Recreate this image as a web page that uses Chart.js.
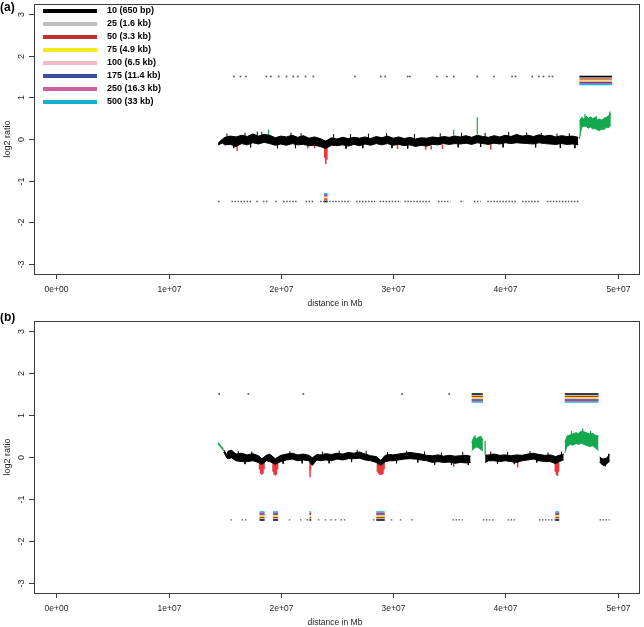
<!DOCTYPE html>
<html lang="en">
<head>
  <meta charset="UTF-8">
  <title>log2 ratio along the chromosome</title>
  <script src="https://cdn.jsdelivr.net/npm/chart.js"></script>
  <style>
    body { margin: 0; background: #ffffff; }
    .panel { position: absolute; left: 0; }
  </style>
</head>
<body>

<div class="panel" style="top:0"><canvas id="chartA" width="644" height="313"></canvas></div>
<div class="panel" style="top:313px"><canvas id="chartB" width="644" height="314"></canvas></div>

<script>
  // --- axes and legend ---
  const xTickValues = [0, 1e7, 2e7, 3e7, 4e7, 5e7];
  const xTickLabels = ['0e+00', '1e+07', '2e+07', '3e+07', '4e+07', '5e+07'];
  const yTickValues = [-3, -2, -1, 0, 1, 2, 3];
  const yTickLabels = ['-3', '-2', '-1', '0', '1', '2', '3'];
  const xTitle = 'distance in Mb';
  const yTitle = 'log2 ratio';
  const windowLabels = ['10 (650 bp)', '25 (1.6 kb)', '50 (3.3 kb)', '75 (4.9 kb)',
                        '100 (6.5 kb)', '175 (11.4 kb)', '250 (16.3 kb)', '500 (33 kb)'];
  const windowColors = ['#000000', '#bebebe', '#c0302e', '#f2ea1a',
                        '#f6b8c8', '#3c4f9c', '#cf5fa0', '#17b0cf'];

  // --- panel (a), positions in Mb: [x, upper, lower] ---
  const traceA_black = [
    [14.4, -0.10, -0.14], [14.8, 0.00, -0.10], [15.0, 0.04, -0.14], [15.5, 0.07, -0.13],
    [16.0, 0.05, -0.18], [16.5, 0.09, -0.11], [17.0, 0.06, -0.14], [17.5, 0.12, -0.09],
    [18.0, 0.07, -0.12], [18.5, 0.11, -0.08], [19.0, 0.09, -0.11], [19.5, 0.03, -0.15],
    [20.0, 0.07, -0.12], [20.5, 0.05, -0.15], [21.0, 0.09, -0.11], [21.5, 0.04, -0.14],
    [22.0, 0.08, -0.13], [22.5, 0.02, -0.16], [23.0, 0.05, -0.15], [23.5, 0.01, -0.18],
    [24.0, -0.05, -0.23], [24.5, 0.03, -0.15], [25.0, 0.00, -0.16], [25.5, 0.04, -0.14],
    [26.0, 0.01, -0.17], [26.5, 0.04, -0.13], [27.0, 0.02, -0.16], [27.5, 0.05, -0.12],
    [28.0, 0.01, -0.15], [28.5, 0.06, -0.11], [29.0, 0.03, -0.14], [29.5, 0.07, -0.11],
    [30.0, 0.02, -0.15], [30.5, 0.05, -0.13], [31.0, 0.01, -0.16], [31.5, 0.04, -0.14],
    [32.0, 0.00, -0.18], [32.5, 0.03, -0.15], [33.0, 0.02, -0.17], [33.5, 0.05, -0.13],
    [34.0, 0.03, -0.14], [34.5, 0.06, -0.11], [35.0, 0.04, -0.13], [35.5, 0.07, -0.11],
    [36.0, 0.05, -0.12], [36.5, 0.08, -0.10], [37.0, 0.04, -0.13], [37.5, 0.09, -0.09],
    [38.0, 0.06, -0.11], [38.5, 0.04, -0.13], [39.0, 0.08, -0.10], [39.5, 0.05, -0.12],
    [40.0, 0.09, -0.09], [40.5, 0.06, -0.11], [41.0, 0.11, -0.09], [41.5, 0.07, -0.10],
    [42.0, 0.09, -0.11], [42.5, 0.06, -0.12], [43.0, 0.10, -0.09], [43.5, 0.07, -0.11],
    [44.0, 0.09, -0.12], [44.5, 0.05, -0.13], [45.0, 0.08, -0.11], [45.5, 0.06, -0.13],
    [46.0, 0.07, -0.12], [46.5, 0.04, -0.14]
  ];
  // single noisy points sticking out of the trace: [x, from, to]
  const noiseA = [
    [15.2, 0.0, 0.13], [15.8, -0.1, -0.22], [16.8, 0.0, 0.15], [17.3, -0.1, -0.20],
    [17.9, 0.0, 0.18], [18.3, 0.0, 0.17], [19.7, -0.1, -0.22], [20.9, 0.0, 0.15],
    [21.3, -0.1, -0.22], [21.8, 0.0, 0.14], [24.7, 0.0, 0.12], [25.8, -0.1, -0.23],
    [26.2, 0.0, 0.12], [27.3, -0.1, -0.22], [27.8, 0.0, 0.13], [29.4, 0.0, 0.14],
    [29.9, -0.1, -0.22], [31.3, -0.1, -0.23], [31.9, 0.0, 0.12], [34.2, 0.0, 0.14],
    [35.8, -0.1, -0.20], [36.1, 0.0, 0.15], [37.8, -0.1, -0.19], [38.2, 0.0, 0.15],
    [39.8, -0.1, -0.20], [40.3, 0.0, 0.17], [41.9, 0.0, 0.16], [42.7, -0.1, -0.20],
    [43.2, 0.0, 0.15], [44.6, 0.0, 0.13], [44.9, -0.1, -0.21], [45.7, 0.0, 0.14],
    [46.2, -0.1, -0.22]
  ];
  const traceA_green = [
    [46.6, 0.42, 0.00], [46.8, 0.52, 0.28], [47.0, 0.48, 0.31], [47.2, 0.55, 0.30],
    [47.4, 0.50, 0.26], [47.6, 0.53, 0.29], [47.8, 0.49, 0.24], [48.0, 0.52, 0.25],
    [48.2, 0.46, 0.22], [48.4, 0.48, 0.20], [48.6, 0.45, 0.24], [48.8, 0.50, 0.23],
    [49.0, 0.52, 0.28], [49.2, 0.56, 0.27], [49.4, 0.62, 0.33]
  ];
  // [x, top, bottom]
  const spikesA_red = [
    [16.1, -0.12, -0.29], [22.4, -0.14, -0.22], [23.0, -0.14, -0.22],
    [23.9, -0.16, -0.45], [24.0, -0.16, -0.60], [24.1, -0.16, -0.50],
    [30.4, -0.15, -0.24], [32.9, -0.17, -0.26], [33.4, -0.16, -0.25],
    [34.4, -0.14, -0.24], [38.7, -0.13, -0.25]
  ];
  const spikesA_green = [[18.9, 0.10, 0.22], [35.4, 0.08, 0.22], [37.5, 0.10, 0.52],
                         [47.1, 0.50, 0.60], [48.1, 0.45, 0.56], [49.3, 0.55, 0.66]];
  const gainCallsA = [[46.6, 49.5]];
  const lossCallsA = [[23.85, 24.15]];
  const gainDotsA = [15.8, 16.4, 16.9, 18.7, 19.1, 19.8, 20.5, 21.1, 21.5, 22.2, 22.9, 26.6,
                     28.9, 29.3, 31.3, 31.5, 33.9, 34.8, 35.4, 37.5, 39.0, 40.6, 40.9, 42.4,
                     43.0, 43.4, 43.9, 44.2];
  const lossRunsA = [[14.4, 14.55], [15.6, 17.4], [17.8, 17.95], [18.4, 18.9], [19.5, 19.65],
                     [20.2, 21.5], [22.2, 22.9], [23.5, 26.2], [26.7, 28.4], [28.8, 30.7],
                     [31.0, 33.3], [34.0, 35.1], [36.0, 36.3], [37.2, 37.8], [38.4, 41.0],
                     [41.5, 43.1], [43.7, 46.6]];

  // --- panel (b) ---
  const traceB_greenStart = [[14.4, 0.35, 0.31], [14.9, 0.18, 0.15]];
  const traceB_black1 = [
    [14.9, 0.17, 0.12], [15.2, 0.05, -0.03], [15.3, 0.14, -0.04], [15.6, 0.16, -0.02],
    [16.0, 0.07, -0.09], [16.5, 0.09, -0.11], [17.0, 0.05, -0.11], [17.5, 0.08, -0.09],
    [18.0, 0.03, -0.13], [18.3, -0.04, -0.18], [18.7, 0.04, -0.09], [19.0, 0.07, -0.11],
    [19.5, -0.04, -0.17], [20.0, 0.04, -0.11], [20.5, 0.07, -0.07], [21.0, 0.09, -0.05],
    [21.5, 0.05, -0.09], [22.0, 0.07, -0.07], [22.5, 0.04, -0.09], [22.8, -0.02, -0.20],
    [23.2, 0.06, -0.07], [23.5, 0.05, -0.09], [24.0, 0.08, -0.07], [24.5, 0.06, -0.09],
    [25.0, 0.09, -0.05], [25.5, 0.07, -0.07], [26.0, 0.11, -0.04], [26.5, 0.09, -0.04],
    [27.0, 0.12, -0.03], [27.5, 0.07, -0.07], [28.0, 0.03, -0.09], [28.5, 0.01, -0.13],
    [28.9, -0.08, -0.20], [29.3, 0.04, -0.11], [29.7, 0.06, -0.09], [30.0, 0.05, -0.09],
    [30.5, 0.07, -0.07], [31.0, 0.09, -0.05], [31.5, 0.11, -0.04], [32.0, 0.09, -0.05],
    [32.5, 0.07, -0.07], [33.0, 0.04, -0.09], [33.5, 0.03, -0.13], [34.0, 0.05, -0.11],
    [34.5, 0.02, -0.13], [35.0, 0.04, -0.12], [35.5, 0.02, -0.15], [36.0, 0.03, -0.13],
    [36.5, 0.04, -0.14], [36.9, 0.02, -0.13]
  ];
  const traceB_green1 = [
    [37.0, 0.35, 0.15], [37.2, 0.48, 0.20], [37.4, 0.43, 0.24], [37.6, 0.47, 0.22],
    [37.8, 0.50, 0.18], [38.0, 0.40, 0.15]
  ];
  const traceB_black2 = [
    [38.2, 0.04, -0.13], [38.5, 0.05, -0.09], [39.0, 0.07, -0.09], [39.5, 0.04, -0.11],
    [40.0, 0.05, -0.09], [40.5, 0.03, -0.11], [41.0, 0.05, -0.13], [41.5, 0.04, -0.09],
    [42.0, 0.07, -0.07], [42.5, 0.09, -0.05], [43.0, 0.06, -0.09], [43.5, 0.04, -0.11],
    [44.0, 0.05, -0.11], [44.5, 0.01, -0.16], [44.8, 0.04, -0.11], [45.2, 0.07, -0.07]
  ];
  const traceB_green2 = [
    [45.3, 0.35, 0.10], [45.5, 0.50, 0.25], [45.8, 0.53, 0.30], [46.0, 0.55, 0.28],
    [46.3, 0.58, 0.32], [46.5, 0.56, 0.30], [46.8, 0.62, 0.33], [47.0, 0.60, 0.30],
    [47.3, 0.57, 0.27], [47.5, 0.55, 0.25], [47.8, 0.56, 0.27], [48.0, 0.52, 0.22],
    [48.3, 0.50, 0.15]
  ];
  const traceB_black3 = [
    [48.4, 0.00, -0.12], [48.7, -0.05, -0.20], [49.0, -0.03, -0.17], [49.3, 0.06, -0.10]
  ];
  const noiseB = [
    [16.2, 0.0, 0.14], [16.8, -0.05, -0.17], [17.4, 0.0, 0.13], [20.2, -0.05, -0.16],
    [20.8, 0.0, 0.14], [21.9, -0.05, -0.15], [23.7, 0.0, 0.13], [24.3, -0.05, -0.15],
    [25.2, 0.0, 0.15], [26.3, -0.05, -0.12], [26.8, 0.0, 0.17], [27.6, 0.0, 0.15],
    [29.5, 0.0, 0.12], [30.3, -0.05, -0.15], [31.2, 0.0, 0.15], [32.2, -0.05, -0.13],
    [32.8, 0.0, 0.13], [33.7, -0.05, -0.18], [34.3, 0.0, 0.11], [35.2, -0.05, -0.19],
    [36.2, 0.0, 0.12], [36.7, -0.05, -0.19], [38.7, 0.0, 0.13], [39.3, -0.05, -0.16],
    [40.2, 0.0, 0.12], [40.8, -0.05, -0.17], [42.2, 0.0, 0.14], [42.8, -0.05, -0.13],
    [43.8, 0.0, 0.11], [45.0, 0.0, 0.13], [48.9, -0.1, -0.22], [49.2, 0.0, 0.08]
  ];
  const spikesB_red = [
    [18.1, -0.12, -0.30], [18.2, -0.12, -0.40], [18.3, -0.12, -0.42], [18.4, -0.12, -0.40], [18.5, -0.12, -0.30],
    [19.3, -0.12, -0.35], [19.4, -0.12, -0.42], [19.5, -0.12, -0.44], [19.6, -0.12, -0.42], [19.7, -0.12, -0.30],
    [22.6, -0.12, -0.48], [22.65, -0.12, -0.30],
    [28.6, -0.12, -0.35], [28.7, -0.12, -0.40], [28.8, -0.12, -0.42], [28.9, -0.12, -0.43],
    [29.0, -0.12, -0.42], [29.1, -0.12, -0.40], [29.2, -0.12, -0.30],
    [35.4, -0.12, -0.23], [41.1, -0.12, -0.25],
    [44.45, -0.12, -0.35], [44.55, -0.12, -0.43], [44.65, -0.12, -0.45], [44.75, -0.12, -0.35]
  ];
  const spikesB_green = [[38.2, 0.05, 0.38], [37.3, 0.40, 0.52], [45.9, 0.50, 0.62],
                         [46.9, 0.55, 0.68], [47.6, 0.50, 0.62]];
  const gainCallsB = [[37.0, 38.0], [45.3, 48.3]];
  const lossCallsB = [[18.1, 18.55], [19.3, 19.75], [22.55, 22.7], [28.5, 29.25], [44.45, 44.8]];
  const gainDotsB = [14.5, 17.1, 22.0, 30.8, 35.0, 37.9];
  const lossRunsB = [[15.5, 15.65], [16.5, 16.65], [16.8, 16.95], [20.7, 20.85], [21.7, 21.85],
                     [22.3, 22.45], [23.3, 23.45], [23.9, 24.05], [24.4, 24.55], [24.8, 24.95],
                     [25.3, 25.45], [25.6, 25.75], [28.2, 28.35], [29.8, 29.95], [30.6, 30.75],
                     [31.6, 31.75], [35.3, 36.2], [38.0, 39.0], [40.2, 41.0], [43.0, 44.4],
                     [48.4, 49.3]];

  const MB = 1e6;
  const xMin = -2e6, xMax = 5.2e7, yMin = -3.24, yMax = 3.24;
  const RED = '#e8383d', GREEN = '#14a84e', STACK_STEP = 0.027;

  function band(rows, color) {
    return [
      { data: rows.map(r => ({ x: r[0] * MB, y: r[1] })), borderColor: color,
        backgroundColor: color, borderWidth: 1, fill: '+1' },
      { data: rows.map(r => ({ x: r[0] * MB, y: r[2] })), borderColor: color,
        borderWidth: 1, fill: false }
    ];
  }

  function spikes(rows, color, width) {
    const pts = [];
    rows.forEach(r => {
      pts.push({ x: r[0] * MB, y: r[1] }, { x: r[0] * MB, y: r[2] }, { x: r[0] * MB, y: null });
    });
    return { data: pts, borderColor: color, borderWidth: width, fill: false };
  }

  function runs(list, yVal, color, width, dash) {
    const pts = [];
    list.forEach(s => {
      pts.push({ x: s[0] * MB, y: yVal }, { x: s[1] * MB, y: yVal }, { x: s[1] * MB, y: null });
    });
    return { data: pts, borderColor: color, borderWidth: width, borderDash: dash || [], fill: false };
  }

  function stacks(gains, losses) {
    const sets = [];
    windowColors.forEach((c, i) => {
      sets.push(runs(gains, 1.5 - i * STACK_STEP, c, 1.5));
      sets.push(runs(losses, -1.5 + i * STACK_STEP, c, 1.5));
    });
    return sets;
  }

  function dots(list, yVal) {
    return { data: list.map(v => ({ x: v * MB, y: yVal })), showLine: false,
             pointRadius: 1.2, pointStyle: 'rect', pointBackgroundColor: '#555',
             pointBorderWidth: 0 };
  }

  // Axes, box and texts drawn in the style of the original plot
  const axesPlugin = {
    id: 'rAxes',
    afterDraw(chart, args, opts) {
      const { ctx, chartArea: a, scales: { x, y } } = chart;
      ctx.save();
      ctx.strokeStyle = '#3c3c3c';
      ctx.lineWidth = 1;
      ctx.strokeRect(a.left + 0.5, a.top + 0.5, a.right - a.left - 1, a.bottom - a.top);
      ctx.fillStyle = '#222';
      ctx.font = '8.5px "Liberation Sans", Arial, sans-serif';
      ctx.textAlign = 'center';
      ctx.textBaseline = 'middle';
      xTickValues.forEach((v, i) => {
        const px = Math.round(x.getPixelForValue(v)) + 0.5;
        ctx.beginPath(); ctx.moveTo(px, a.bottom); ctx.lineTo(px, a.bottom + 5); ctx.stroke();
        ctx.fillText(xTickLabels[i], px, a.bottom + 16);
      });
      ctx.fillText(xTitle, (a.left + a.right) / 2 - 2, a.bottom + 30);
      ctx.font = '9px "Liberation Sans", Arial, sans-serif';
      yTickValues.forEach((v, i) => {
        const py = Math.round(y.getPixelForValue(v)) + 0.5;
        ctx.beginPath(); ctx.moveTo(a.left - 5, py); ctx.lineTo(a.left, py); ctx.stroke();
        ctx.save();
        ctx.translate(a.left - 12, py);
        ctx.rotate(-Math.PI / 2);
        ctx.fillText(yTickLabels[i], 0, 0);
        ctx.restore();
      });
      ctx.save();
      ctx.translate(8, y.getPixelForValue(0));
      ctx.rotate(-Math.PI / 2);
      ctx.fillText(yTitle, 0, 0);
      ctx.restore();

      ctx.fillStyle = '#000';
      ctx.textAlign = 'left';
      ctx.font = 'bold 12px "Liberation Sans", Arial, sans-serif';
      ctx.fillText(opts.tag, 0, opts.tagY);

      if (opts.legend) {
        ctx.font = 'bold 9px "Liberation Sans", Arial, sans-serif';
        windowLabels.forEach((lab, i) => {
          const ly = 11 + i * 13;
          ctx.strokeStyle = windowColors[i];
          ctx.lineWidth = 4;
          ctx.beginPath(); ctx.moveTo(43, ly); ctx.lineTo(97, ly); ctx.stroke();
          ctx.fillText(lab, 107, ly);
        });
      }
      ctx.restore();
    }
  };

  function makeChart(id, datasets, panel) {
    return new Chart(document.getElementById(id), {
      type: 'line',
      data: { datasets },
      options: {
        responsive: false,
        animation: false,
        devicePixelRatio: 1,
        events: [],
        layout: { padding: panel.padding },
        elements: { point: { radius: 0 }, line: { tension: 0 } },
        scales: {
          x: { type: 'linear', min: xMin, max: xMax, display: false },
          y: { type: 'linear', min: yMin, max: yMax, display: false }
        },
        plugins: { legend: { display: false }, tooltip: { enabled: false }, rAxes: panel }
      },
      plugins: [axesPlugin]
    });
  }

  const setsA = [].concat(
    band(traceA_black, '#000'),
    [spikes(noiseA, '#000', 1)],
    band(traceA_green, GREEN),
    [spikes(spikesA_red, RED, 1.5), spikes(spikesA_green, GREEN, 1.2)],
    [runs(lossRunsA, -1.5, '#555', 1.3, [1.5, 1.5]), dots(gainDotsA, 1.5)],
    stacks(gainCallsA, lossCallsA)
  );

  const setsB = [].concat(
    band(traceB_greenStart, GREEN),
    band(traceB_black1, '#000'),
    band(traceB_green1, GREEN),
    band(traceB_black2, '#000'),
    band(traceB_green2, GREEN),
    band(traceB_black3, '#000'),
    [spikes(noiseB, '#000', 1)],
    [spikes(spikesB_red, RED, 1.5), spikes(spikesB_green, GREEN, 1.2)],
    [runs(lossRunsB, -1.5, '#555', 1.3, [1.5, 1.5]), dots(gainDotsB, 1.5)],
    stacks(gainCallsB, lossCallsB)
  );

  makeChart('chartA', setsA, { padding: { left: 34, top: 2, right: 3, bottom: 39 }, tag: '(a)', tagY: 8, legend: true });
  makeChart('chartB', setsB, { padding: { left: 34, top: 8, right: 3, bottom: 34 }, tag: '(b)', tagY: 5, legend: false });
</script>

</body>
</html>
